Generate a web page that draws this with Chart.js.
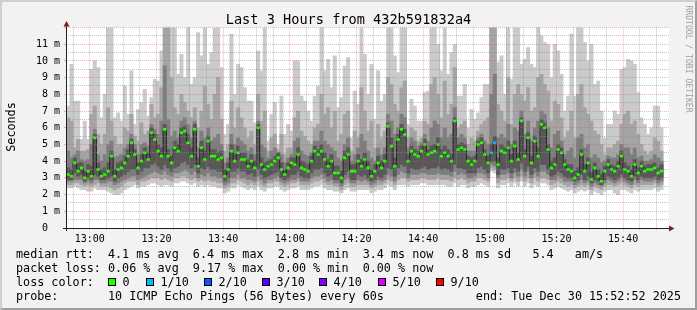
<!DOCTYPE html>
<html>
<head>
<meta charset="utf-8">
<title>Last 3 Hours from 432b591832a4</title>
<script src="https://cdn.jsdelivr.net/npm/chart.js@4/dist/chart.umd.min.js"></script>
<style>
html, body { margin:0; padding:0; }
body { width:697px; height:310px; overflow:hidden; background:#f2f2f2; }
#g { position:relative; width:697px; height:310px; font-family:'DejaVu Sans Mono', monospace; color:#000; }
#frame { position:absolute; left:0; top:0; width:693px; height:306px; border-style:solid; border-width:2px; border-color:#cfcfcf #9e9e9e #9e9e9e #cfcfcf; background:#f2f2f2; }
#c { position:absolute; left:0; top:0; }
.txt { position:absolute; white-space:pre; font-size:11.75px; line-height:14px; }
#title { position:absolute; left:0; top:11.3px; width:697px; text-align:center; font-size:13.6px; line-height:16px; white-space:pre; }
#ylab { position:absolute; left:-19px; top:120px; width:60px; height:14px; line-height:14px; text-align:center; font-size:11.75px; transform:rotate(-90deg); white-space:pre; }
#credit { position:absolute; left:628.8px; top:53.5px; width:120px; height:10px; line-height:10px; text-align:center; font-size:8.1px; color:#a0a0a0; transform:rotate(90deg); white-space:pre; }
.box { position:absolute; width:6px; height:6px; border:1px solid #000; top:278.3px; }
</style>
</head>
<body>
<div id="g">
  <div id="frame"></div>
  <canvas id="c" width="697" height="310"></canvas>
  <div id="title">Last 3 Hours from 432b591832a4</div>
  <div id="ylab">Seconds</div>
  <div id="credit">RRDTOOL / TOBI OETIKER</div>
  <div class="txt" style="left:16px;top:247.2px">median rtt:  4.1 ms avg  6.4 ms max  2.8 ms min  3.4 ms now  0.8 ms sd   5.4   am/s</div>
  <div class="txt" style="left:16px;top:261.2px">packet loss: 0.06 % avg  9.17 % max  0.00 % min  0.00 % now</div>
  <div class="txt" style="left:16px;top:275.2px">loss color:</div>
  <div id="lossLegend"></div>
  <div class="txt" style="left:16px;top:289.2px">probe:       10 ICMP Echo Pings (56 Bytes) every 60s</div>
  <div class="txt" style="right:16px;top:289.2px;text-align:right">end: Tue Dec 30 15:52:52 2025</div>
</div>
<script>
// ---- time frame ----
const graphStart = '12:52:52';
const firstSlot = '12:53';
const tickLabels = ['13:00','13:20','13:40','14:00','14:20','14:40','15:00','15:20','15:40'];
const lossOneTenthSlots = ['15:00','15:01'];

// ---- loss colour legend ----
const lossLabels = ['0','1/10','2/10','3/10','4/10','5/10','9/10'];
const lossColors = ['#26ff00','#00b8ff','#0059ff','#5e00ff','#7e00ff','#dd00ff','#ff0000'];

// ---- per-minute values (ms) ----
const median = [
3.2,3.1,3.9,3.4,3.6,3.0,3.4,3.1,5.4,3.5,
3.1,3.2,3.4,4.3,3.1,3.5,3.6,3.9,4.3,5.1,
4.4,3.6,4.0,4.5,4.1,5.7,5.3,4.6,4.3,5.9,
4.3,3.9,4.8,4.6,5.7,5.8,5.1,4.3,5.9,3.7,
4.8,4.1,5.2,4.3,4.3,4.1,4.2,3.1,3.5,4.6,
4.0,4.5,4.1,4.1,3.7,4.0,3.6,6.0,3.8,3.5,
3.7,3.8,4.0,4.2,3.5,3.2,3.6,3.9,3.8,4.4,
3.6,3.5,3.4,4.0,4.6,4.4,4.6,4.1,3.7,4.0,
3.3,3.3,3.0,4.2,4.4,3.4,3.4,4.0,3.7,4.1,
3.6,3.1,3.4,3.9,3.6,4.0,6.1,4.9,3.7,5.3,
5.9,5.6,4.0,4.6,4.4,4.3,4.6,5.0,4.4,4.5,
4.6,5.0,4.3,4.5,4.3,4.0,6.4,4.7,4.8,4.7,
4.0,3.8,4.0,5.0,5.1,4.4,3.9,4.5,5.1,3.8,
4.6,4.5,4.8,4.0,4.9,4.1,6.4,4.3,5.4,3.9,
5.2,4.3,6.2,6.0,4.7,3.6,3.8,4.7,4.5,3.8,
3.5,3.4,3.0,3.2,4.4,3.4,3.9,2.9,3.6,3.1,
2.8,3.4,3.8,3.5,3.4,3.7,4.3,3.5,3.4,3.1,
3.8,3.3,3.7,3.4,3.5,3.5,3.6,3.3,3.4];

const pingMax = [
7.3,9.8,7.6,7.6,5.3,6.4,5.3,9.5,10.0,9.6,
6.6,8.0,12,12,6.6,6.9,6.4,8.5,6.8,9.4,
6.2,7.1,7.5,8.3,6.7,7.8,8.9,8.8,10.6,12,
12,12,12,9.2,10.4,9.0,12,8.6,9.0,11.7,
10.3,12,9.8,10.5,12,12,9.6,5.6,6.2,11.6,
8.0,9.8,9.6,8.4,7.6,7.6,6.3,10.6,9.4,12,
5.2,6.8,7.5,5.0,7.9,5.6,6.2,5.8,10.0,10.0,
7.9,7.6,7.0,6.4,7.9,8.5,12,9.4,10.1,8.4,
10.3,7.2,7.8,9.7,10.2,5.4,8.2,7.4,12,10.4,
8.0,9.8,6.5,9.4,7.6,8.0,12,12,10.3,9.3,
12,12,6.2,7.7,7.3,6.4,6.4,8.1,8.2,12,
12,11.0,9.4,12,9.2,10.5,11.0,7.9,7.9,8.6,
6.0,7.1,6.5,6.9,7.8,8.6,8.6,12,12,9.9,
10.3,8.0,12,8.9,12,12,9.8,10.1,10.8,9.8,
9.6,12,11.5,11.1,11.0,9.0,11.0,10.6,9.2,7.0,
7.9,11.6,7.9,12,12,11.1,10.0,11.0,8.6,8.8,
7.0,5.4,6.2,6.2,7.0,6.8,9.5,9.6,10.1,10.0,
9.8,8.1,6.6,6.2,5.6,6.0,7.3,7.3,6.0];

const ping9 = [
6.6,6.4,4.8,5.3,4.6,4.6,4.7,6.8,7.3,5.6,
5.0,5.6,7.2,6.4,5.5,5.0,5.0,6.0,5.8,6.8,
5.5,5.2,6.3,5.6,5.8,7.4,6.6,6.8,8.4,12,
12,9.0,7.2,6.8,8.0,7.5,7.0,6.6,7.2,6.0,
7.0,8.5,7.4,6.5,8.0,9.0,6.5,4.6,5.0,7.6,
6.0,7.2,6.6,6.0,5.4,5.8,5.0,8.0,6.4,7.0,
4.6,5.4,5.6,4.7,5.6,4.4,4.8,4.8,6.6,7.0,
5.8,5.5,5.2,5.0,6.0,6.2,8.0,6.8,7.2,6.0,
7.0,5.2,5.6,6.8,7.0,4.6,5.8,5.4,8.4,7.0,
5.8,6.4,4.8,6.2,5.4,5.8,9.0,8.6,7.4,7.0,
8.4,8.8,5.4,6.0,5.8,5.2,5.4,6.4,6.2,8.6,
9.0,8.0,6.6,8.8,6.8,7.4,9.6,6.0,6.2,6.4,
5.0,5.4,5.2,5.8,6.2,6.4,6.6,12,12,7.4,
7.0,6.4,9.0,6.2,8.0,8.6,8.0,7.6,8.4,7.0,
7.2,9.0,9.2,8.6,8.2,6.4,7.6,7.4,6.6,5.4,
5.8,7.0,5.4,8.0,8.6,7.2,6.8,6.4,5.8,5.6,
5.0,4.4,4.8,4.8,5.0,5.2,6.2,6.8,7.0,6.2,
6.4,5.6,5.0,4.6,4.4,4.6,5.4,5.2,4.6];

const ping8 = [
4.6,4.2,4.4,4.6,4.1,4.0,4.1,5.0,5.9,4.4,
4.0,4.4,5.0,5.2,4.2,4.3,4.4,4.8,5.0,5.6,
5.0,4.4,5.0,5.1,4.9,6.2,5.9,5.6,6.4,9.7,
6.5,5.5,5.8,5.4,6.4,6.6,6.2,5.4,6.4,4.8,
5.8,5.4,6.0,5.2,5.4,5.6,5.0,3.9,4.2,5.6,
5.0,5.4,5.2,5.0,4.6,4.8,4.4,6.4,5.0,4.8,
4.2,4.6,4.8,4.5,4.4,3.9,4.2,4.4,5.2,5.4,
4.6,4.4,4.3,4.5,5.2,5.2,5.8,5.2,5.0,4.8,
4.6,4.2,4.0,5.0,5.4,4.0,4.4,4.8,5.6,5.2,
4.6,4.2,4.0,4.8,4.4,4.8,6.8,6.4,5.6,6.0,
6.8,6.6,4.8,5.4,5.2,4.9,5.1,5.6,5.2,6.0,
6.4,6.2,5.4,6.0,5.4,5.6,7.2,5.4,5.6,5.4,
4.6,4.6,4.6,5.4,5.6,5.2,5.0,8.0,9.2,5.4,
5.6,5.4,6.2,5.0,6.0,5.8,7.0,5.6,6.4,5.2,
6.0,6.4,7.0,6.8,6.0,4.8,5.6,5.8,5.2,4.4,
4.6,4.8,4.2,5.4,5.6,4.8,5.0,4.2,4.4,4.2,
3.9,4.0,4.3,4.2,4.2,4.4,5.0,4.8,4.8,4.4,
4.8,4.2,4.3,4.0,4.0,4.1,4.4,4.2,4.0];

const ping7 = [
3.6,3.5,4.2,3.9,3.9,3.4,3.8,3.7,5.6,3.9,
3.5,3.6,3.9,4.6,3.5,3.9,4.0,4.3,4.7,5.3,
4.7,3.9,4.4,4.8,4.5,6.0,5.6,5.0,4.8,6.2,
4.7,4.3,5.2,5.0,6.0,6.1,5.6,4.8,6.2,4.2,
5.2,4.6,5.5,4.7,4.7,4.5,4.6,3.5,3.9,5.0,
4.4,4.9,4.5,4.5,4.1,4.4,4.0,6.2,4.2,3.9,
4.0,4.1,4.3,4.5,3.9,3.5,3.9,4.2,4.2,4.8,
4.0,3.9,3.8,4.3,4.9,4.7,5.0,4.5,4.1,4.4,
3.7,3.7,3.4,4.6,4.8,3.8,3.8,4.4,4.1,4.5,
4.0,3.5,3.8,4.3,4.0,4.4,6.3,5.4,4.2,5.6,
6.2,5.9,4.4,4.9,4.7,4.6,4.9,5.3,4.7,4.9,
5.0,5.4,4.7,4.9,4.7,4.4,6.6,5.0,5.1,5.0,
4.3,4.2,4.3,5.2,5.4,4.7,4.3,5.0,5.5,4.2,
5.0,4.8,5.2,4.4,5.2,4.5,6.6,4.7,5.7,4.3,
5.5,4.8,6.5,6.3,5.0,4.0,4.2,5.0,4.8,4.1,
3.8,3.8,3.4,3.6,4.7,3.8,4.2,3.3,3.9,3.5,
3.2,3.7,4.1,3.8,3.7,4.0,4.6,3.9,3.7,3.5,
4.1,3.6,4.0,3.7,3.8,3.8,3.9,3.6,3.8];

const ping4 = [
2.9,2.9,3.3,3.1,3.2,2.8,3.0,2.9,3.2,3.1,
2.9,2.9,3.0,3.1,2.8,3.0,3.1,3.2,3.4,3.5,
3.5,3.2,3.4,3.6,3.6,3.8,3.9,3.7,3.5,3.8,
3.6,3.4,3.6,3.7,3.9,4.0,3.8,3.6,3.8,3.3,
3.6,3.5,3.7,3.5,3.5,3.4,3.4,2.8,3.0,3.4,
3.4,3.6,3.4,3.4,3.2,3.3,3.1,3.5,3.2,3.0,
3.1,3.2,3.3,3.4,3.0,2.9,3.0,3.2,3.2,3.4,
3.1,3.0,3.0,3.3,3.5,3.5,3.6,3.3,3.1,3.2,
2.9,2.9,2.7,3.2,3.4,2.9,2.9,3.2,3.1,3.2,
3.0,2.8,2.9,3.1,3.0,3.2,3.6,3.5,3.1,3.6,
3.8,3.7,3.3,3.6,3.5,3.5,3.6,3.7,3.5,3.6,
3.6,3.7,3.5,3.6,3.5,3.4,3.8,3.6,3.6,3.5,
3.3,3.3,3.3,3.6,3.7,3.5,3.3,4.0,4.0,3.2,
3.5,3.5,3.6,3.3,3.6,3.4,3.9,3.4,3.7,3.2,
3.6,3.4,3.8,3.8,3.5,3.1,3.2,3.4,3.3,3.1,
3.0,3.0,2.8,2.9,3.2,2.9,3.1,2.7,2.9,2.8,
2.6,2.9,3.1,3.0,2.9,3.0,3.2,3.0,2.9,2.8,
3.1,2.9,3.1,3.0,3.0,3.0,3.1,2.9,3.0];

const ping3 = [
2.8,2.8,2.9,2.9,2.9,2.7,2.8,2.7,2.9,2.9,
2.7,2.7,2.8,2.8,2.6,2.7,2.8,2.9,3.0,3.1,
3.1,2.9,3.0,3.1,3.2,3.3,3.4,3.3,3.2,3.4,
3.2,3.1,3.3,3.3,3.4,3.5,3.4,3.2,3.4,3.0,
3.2,3.1,3.3,3.1,3.1,3.0,3.0,2.6,2.7,3.0,
3.0,3.2,3.0,3.0,2.9,2.9,2.8,3.1,2.9,2.7,
2.9,2.9,3.0,3.1,2.8,2.7,2.8,2.9,2.9,3.0,
2.8,2.8,2.8,3.0,3.1,3.1,3.2,3.0,2.8,2.9,
2.7,2.7,2.5,2.9,3.0,2.7,2.7,2.9,2.8,2.9,
2.8,2.6,2.7,2.9,2.8,2.9,3.2,3.1,2.8,3.2,
3.4,3.3,3.0,3.2,3.2,3.2,3.3,3.3,3.2,3.2,
3.2,3.3,3.2,3.2,3.2,3.1,3.4,3.2,3.3,3.2,
3.0,3.0,3.1,3.3,3.3,3.2,3.0,3.8,3.7,3.0,
3.2,3.2,3.3,3.0,3.3,3.1,3.5,3.1,3.4,3.0,
3.3,3.1,3.4,3.4,3.2,2.9,2.9,3.1,3.0,2.8,
2.8,2.8,2.6,2.7,2.9,2.7,2.8,2.5,2.7,2.6,
2.5,2.7,2.9,2.8,2.7,2.8,3.0,2.8,2.7,2.6,
2.9,2.7,2.9,2.8,2.8,2.8,2.9,2.7,2.8];

const ping2 = [
2.6,2.6,2.7,2.7,2.6,2.5,2.6,2.5,2.6,2.7,
2.5,2.5,2.5,2.4,2.3,2.4,2.5,2.7,2.8,2.8,
2.8,2.6,2.8,2.8,2.9,3.0,3.0,3.0,2.9,3.0,
2.9,2.8,3.0,3.0,3.1,3.1,3.0,2.9,3.0,2.8,
2.9,2.8,2.9,2.8,2.8,2.7,2.7,2.4,2.5,2.7,
2.7,2.9,2.8,2.7,2.6,2.7,2.6,2.8,2.6,2.5,
2.7,2.7,2.8,2.8,2.6,2.5,2.6,2.7,2.7,2.8,
2.6,2.6,2.6,2.7,2.8,2.8,2.9,2.7,2.6,2.6,
2.5,2.5,2.3,2.6,2.7,2.5,2.5,2.6,2.6,2.6,
2.6,2.4,2.5,2.6,2.6,2.7,2.9,2.8,2.6,2.9,
3.0,3.0,2.8,2.9,2.9,2.9,3.0,3.0,2.9,2.9,
2.9,3.0,2.9,2.9,2.9,2.8,3.0,2.9,3.0,2.9,
2.7,2.8,2.8,3.0,3.0,2.9,2.8,3.6,3.5,2.7,
2.9,2.9,3.0,2.8,3.0,2.8,3.1,2.8,3.0,2.7,
3.0,2.8,3.0,3.0,2.9,2.6,2.7,2.8,2.7,2.6,
2.5,2.6,2.4,2.5,2.6,2.5,2.6,2.3,2.5,2.4,
2.3,2.5,2.6,2.6,2.5,2.6,2.7,2.6,2.5,2.4,
2.6,2.5,2.6,2.6,2.6,2.6,2.7,2.5,2.6];

const pingMin = [
2.4,2.4,2.5,2.4,2.3,2.3,2.2,2.2,2.4,2.3,
2.3,2.3,2.2,2.1,2.0,2.0,2.1,2.3,2.4,2.5,
2.6,2.4,2.5,2.5,2.6,2.7,2.7,2.6,2.5,2.6,
2.6,2.5,2.7,2.7,2.8,2.8,2.7,2.6,2.7,2.5,
2.6,2.5,2.6,2.5,2.5,2.4,2.4,2.1,2.2,2.4,
2.4,2.6,2.5,2.4,2.3,2.4,2.3,2.5,2.3,2.2,
2.4,2.4,2.5,2.5,2.3,2.2,2.3,2.4,2.4,2.5,
2.3,2.3,2.3,2.4,2.5,2.5,2.6,2.4,2.3,2.3,
2.2,2.2,2.1,2.3,2.4,2.2,2.2,2.3,2.3,2.3,
2.3,2.1,2.2,2.3,2.3,2.4,2.6,2.5,2.3,2.6,
2.6,2.6,2.5,2.6,2.6,2.6,2.7,2.7,2.6,2.6,
2.6,2.6,2.6,2.6,2.5,2.5,2.7,2.5,2.6,2.6,
2.4,2.5,2.5,2.6,2.7,2.6,2.5,3.4,3.3,2.4,
2.6,2.6,2.7,2.5,2.7,2.5,2.8,2.5,2.7,2.4,
2.6,2.5,2.7,2.7,2.6,2.3,2.4,2.5,2.4,2.3,
2.2,2.3,2.1,2.2,2.3,2.2,2.3,2.0,2.2,2.1,
2.0,2.2,2.3,2.3,2.1,2.0,2.3,2.3,2.2,2.1,
2.3,2.2,2.3,2.3,2.3,2.3,2.4,2.2,2.3];

// ---- helpers ----
function hm(s) { const p = s.split(':').map(Number); return p[0] * 60 + p[1] + (p[2] || 0) / 60; }
function fmt(t) { const m = Math.round(t); return String(Math.floor(m / 60)).padStart(2, '0') + ':' + String(m % 60).padStart(2, '0'); }
const t0 = hm(graphStart);
const slotTimes = median.map((_, i) => fmt(hm(firstSlot) + i));
const xs = slotTimes.map(s => hm(s) - t0 + 0.5);

const xGrid = [];
for (let t = hm('12:55'); t <= hm('15:50'); t += 5) xGrid.push(t - t0);
const yGrid = [];
for (let v = 0; v <= 12; v += 0.5) yGrid.push(v);

const MGRID = 'rgba(222,79,79,0.42)';
const GRID = 'rgba(143,143,143,0.55)';
const isMajorX = v => tickLabels.includes(fmt(t0 + v));

// loss legend boxes
const lossBoxX = [108, 146, 204, 262, 319, 378, 436];
const lossLegend = document.getElementById('lossLegend');
lossLabels.forEach((lab, i) => {
  const b = document.createElement('div');
  b.className = 'box'; b.style.left = lossBoxX[i] + 'px'; b.style.background = lossColors[i];
  lossLegend.appendChild(b);
  const t = document.createElement('div');
  t.className = 'txt'; t.style.left = (lossBoxX[i] + 14.5) + 'px'; t.style.top = '275.2px';
  t.textContent = lab;
  lossLegend.appendChild(t);
});

function band(lo, hi, color, order) {
  return {
    type: 'bar',
    data: xs.map((x, i) => ({ x: x, y: [lo[i], hi[i]] })),
    backgroundColor: color, borderWidth: 0, grouped: false,
    barPercentage: 1, categoryPercentage: 1, order: order
  };
}

const markerColors = slotTimes.map(t => lossOneTenthSlots.includes(t) ? lossColors[1] : lossColors[0]);

const rrdPlugin = {
  id: 'rrd',
  beforeDraw(chart) {
    const { ctx, chartArea: a } = chart;
    ctx.save();
    ctx.fillStyle = '#ffffff';
    ctx.fillRect(a.left, a.top, a.right - a.left, a.bottom - a.top);
    ctx.restore();
  },
  afterDraw(chart) {
    const { ctx, chartArea: a } = chart;
    ctx.save();
    ctx.fillStyle = '#1f1f1f';
    ctx.fillRect(a.left, a.top - 5, 1, a.bottom - a.top + 8);
    ctx.fillRect(a.left - 3, a.bottom, a.right - a.left + 3, 1);
    ctx.fillStyle = '#7f1f1f';
    ctx.beginPath();
    ctx.moveTo(a.left - 2.5, a.top - 1); ctx.lineTo(a.left + 3.5, a.top - 1); ctx.lineTo(a.left + 0.5, a.top - 6.5);
    ctx.closePath(); ctx.fill();
    ctx.beginPath();
    ctx.moveTo(a.right, a.bottom - 2.5); ctx.lineTo(a.right, a.bottom + 3.5); ctx.lineTo(a.right + 5.5, a.bottom + 0.5);
    ctx.closePath(); ctx.fill();
    ctx.restore();
  }
};

Chart.defaults.font.family = "'DejaVu Sans Mono', monospace";
Chart.defaults.font.size = 10;
Chart.defaults.color = '#000';

new Chart(document.getElementById('c'), {
  type: 'line',
  data: {
    datasets: [
      {
        type: 'line', data: xs.map((x, i) => ({ x: x, y: median[i] })),
        showLine: false, pointStyle: 'line', pointRadius: 1.7, pointBorderWidth: 2.6,
        pointBorderColor: markerColors, pointBackgroundColor: markerColors, order: 0
      },
      {
        type: 'line', data: xs.map((x, i) => ({ x: x, y: median[i] })),
        stepped: 'middle', borderColor: '#262626', borderWidth: 1, pointRadius: 0, fill: false, order: 1
      },
      band(ping4, ping7, '#585858', 2),
      band(ping3, ping8, '#7e7e7e', 3),
      band(ping2, ping9, '#a4a4a4', 4),
      band(pingMin, pingMax, '#cacaca', 5)
    ]
  },
  options: {
    responsive: false, animation: false,
    layout: { padding: { left: 0, top: 27.5, right: 28, bottom: 62 } },
    plugins: { legend: { display: false }, tooltip: { enabled: false }, title: { display: false } },
    scales: {
      x: {
        type: 'linear', min: 0, max: 180.9, offset: false,
        afterBuildTicks: s => { s.ticks = xGrid.map(v => ({ value: v })); },
        afterFit: s => { s.height = 20; },
        ticks: { autoSkip: false, maxRotation: 0, minRotation: 0, padding: 3,
                 callback: v => isMajorX(v) ? fmt(t0 + v) : '' },
        grid: { offset: false, z: 1, lineWidth: 1, tickLength: 2,
                color: c => (c.tick && isMajorX(c.tick.value)) ? MGRID : GRID,
                tickColor: c => (c.tick && isMajorX(c.tick.value)) ? MGRID : GRID },
        border: { display: false, dash: [1, 1] }
      },
      y: {
        type: 'linear', min: 0, max: 12,
        afterBuildTicks: s => { s.ticks = yGrid.map(v => ({ value: v })); },
        afterFit: s => { s.width = 66; },
        ticks: { autoSkip: false, padding: 4,
                 callback: v => (Number.isInteger(v) && v < 12) ? (v === 0 ? '0  ' : v + ' m') : '' },
        grid: { z: 1, lineWidth: 1, tickLength: 2,
                color: c => (c.tick && Number.isInteger(c.tick.value)) ? MGRID : GRID,
                tickColor: c => (c.tick && Number.isInteger(c.tick.value)) ? MGRID : 'rgba(0,0,0,0)' },
        border: { display: false, dash: [1, 1] }
      }
    }
  },
  plugins: [rrdPlugin]
});
</script>
</body>
</html>
